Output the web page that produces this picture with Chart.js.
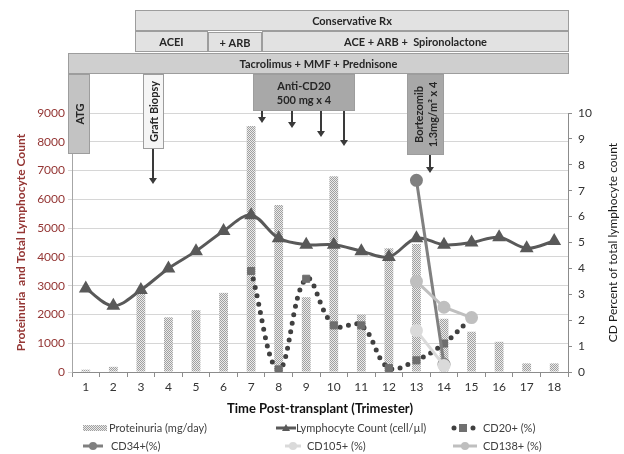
<!DOCTYPE html>
<html>
<head>
<meta charset="utf-8">
<script src="https://cdn.jsdelivr.net/npm/chart.js@4.4.0/dist/chart.umd.min.js"></script>
<style>
  body { margin: 0; background: #fff; }
  #wrap { width: 624px; height: 454px; }
</style>
</head>
<body>
<div id="wrap"><canvas id="chart" width="624" height="454"></canvas></div>
<script>
// values
const trimesters = ['1', '2', '3', '4', '5', '6', '7', '8', '9', '10', '11', '12', '13', '14', '15', '16', '17', '18'];
const proteinuria = [80, 180, 2750, 1900, 2150, 2750, 8550, 5800, 2600, 6800, 2000, 4300, 4450, 1850, 1400, 1050, 300, 300];
const lymphocytes = [2900, 2300, 2850, 3600, 4200, 4900, 5450, 4650, 4420, 4420, 4200, 4000, 4650, 4420, 4500, 4680, 4300, 4550];
const cd20 = [null, null, null, null, null, null, 3.9, 0.1, 3.6, 1.8, 1.8, 0.15, 0.45, 1.1, 2.1, null, null, null];
const cd34 = [null, null, null, null, null, null, null, null, null, null, null, null, 7.4, 0.3, null, null, null, null];
const cd105 = [null, null, null, null, null, null, null, null, null, null, null, null, 1.6, 0.25, null, null, null, null];
const cd138 = [null, null, null, null, null, null, null, null, null, null, null, null, 3.5, 2.5, 2.1, null, null, null];
const leftTicks = [0, 1000, 2000, 3000, 4000, 5000, 6000, 7000, 8000, 9000];
const rightTicks = [0, 1, 2, 3, 4, 5, 6, 7, 8, 9, 10];

const FONT = "Lato, 'Open Sans', sans-serif";
const RED = '#943634';

// treatment boxes drawn above the plot
const treatments = [
  { lines: ['Conservative Rx'], x: 135, y: 10, w: 434, h: 21, fill: '#e2e2e2' },
  { lines: ['ACEI'], x: 135, y: 31, w: 73, h: 21, fill: '#e2e2e2' },
  { lines: ['+ ARB'], x: 208, y: 32, w: 54, h: 20, fill: '#e2e2e2' },
  { lines: ['ACE + ARB +  Spironolactone'], x: 262, y: 31, w: 307, h: 21, fill: '#e2e2e2' },
  { lines: ['Tacrolimus + MMF + Prednisone'], x: 68, y: 53, w: 501, h: 21, fill: '#cfcfcf' },
  { lines: ['ATG'], x: 68, y: 74, w: 22, h: 80, fill: '#c3c3c3', vertical: true },
  { lines: ['Graft Biopsy'], x: 143, y: 74, w: 21, h: 75, fill: '#f5f5f5', vertical: true },
  { lines: ['Anti-CD20', '500 mg x 4'], x: 253, y: 74, w: 102, h: 37, fill: '#a8a8a8' },
  { lines: ['Bortezomib', '1.3mg/m\u00b2 x 4'], x: 407, y: 74, w: 37, h: 81, fill: '#a8a8a8', vertical: true }
];
const arrows = [
  { x: 153, from: 149, to: 184 },
  { x: 262, from: 111, to: 123 },
  { x: 292, from: 111, to: 128 },
  { x: 321, from: 111, to: 137 },
  { x: 344, from: 111, to: 146 },
  { x: 430, from: 155, to: 173 }
];

// checkered fill for the proteinuria bars
function makePattern() {
  const c = document.createElement('canvas');
  c.width = 2;
  c.height = 2;
  const p = c.getContext('2d');
  p.fillStyle = '#ebebeb';
  p.fillRect(0, 0, 2, 2);
  p.fillStyle = '#a0a0a0';
  p.fillRect(0, 0, 1, 1);
  p.fillRect(1, 1, 1, 1);
  return p.createPattern(c, 'repeat');
}
const barPattern = makePattern();

function drawBox(ctx, b) {
  ctx.fillStyle = b.fill;
  ctx.fillRect(b.x, b.y, b.w, b.h);
  ctx.strokeStyle = '#9d9d9d';
  ctx.lineWidth = 1;
  ctx.strokeRect(b.x + 0.5, b.y + 0.5, b.w - 1, b.h - 1);
  ctx.fillStyle = '#262626';
  ctx.font = 'bold 11px ' + FONT;
  ctx.textAlign = 'center';
  ctx.textBaseline = 'middle';
  const lh = 14;
  const cx = b.x + b.w / 2;
  const cy = b.y + b.h / 2;
  ctx.save();
  ctx.translate(cx, cy);
  if (b.vertical) ctx.rotate(-Math.PI / 2);
  b.lines.forEach((t, i) => {
    const off = (i - (b.lines.length - 1) / 2) * lh;
    ctx.fillText(t, 0, off + 1);
  });
  ctx.restore();
}

function drawArrow(ctx, a) {
  ctx.strokeStyle = '#3a3a3a';
  ctx.fillStyle = '#3a3a3a';
  ctx.lineWidth = 2;
  ctx.beginPath();
  ctx.moveTo(a.x, a.from);
  ctx.lineTo(a.x, a.to - 5);
  ctx.stroke();
  ctx.beginPath();
  ctx.moveTo(a.x - 4, a.to - 6);
  ctx.lineTo(a.x + 4, a.to - 6);
  ctx.lineTo(a.x, a.to);
  ctx.closePath();
  ctx.fill();
}

// legend swatches
function lineSwatch(ctx, x1, x2, y, color, style) {
  ctx.strokeStyle = color;
  ctx.fillStyle = color;
  ctx.lineWidth = 3;
  ctx.beginPath();
  ctx.moveTo(x1, y);
  ctx.lineTo(x2, y);
  ctx.stroke();
  const cx = (x1 + x2) / 2;
  ctx.beginPath();
  if (style === 'triangle') {
    ctx.moveTo(cx - 4, y + 3);
    ctx.lineTo(cx + 4, y + 3);
    ctx.lineTo(cx, y - 4);
  } else {
    ctx.arc(cx, y, 4, 0, Math.PI * 2);
  }
  ctx.closePath();
  ctx.fill();
}

function legendText(ctx, text, x, y) {
  ctx.fillStyle = '#404040';
  ctx.font = '11px ' + FONT;
  ctx.textAlign = 'left';
  ctx.textBaseline = 'middle';
  ctx.fillText(text, x, y);
}

const overlay = {
  id: 'overlay',
  afterDraw(chart) {
    const ctx = chart.ctx;
    const area = chart.chartArea;
    ctx.save();
    treatments.forEach(b => drawBox(ctx, b));
    arrows.forEach(a => drawArrow(ctx, a));

    // right axis title, read from bottom to top
    ctx.save();
    ctx.translate(613, (area.top + area.bottom) / 2);
    ctx.rotate(-Math.PI / 2);
    ctx.fillStyle = '#1a1a1a';
    ctx.font = '12px ' + FONT;
    ctx.textAlign = 'center';
    ctx.textBaseline = 'middle';
    ctx.fillText('CD Percent of total lymphocyte count', 0, 0);
    ctx.restore();

    // legend, row 1
    const r1 = 428, r2 = 446;
    ctx.fillStyle = barPattern;
    ctx.fillRect(83, r1 - 3, 24, 6);
    legendText(ctx, 'Proteinuria (mg/day)', 109, r1);
    lineSwatch(ctx, 276, 296, r1, '#595959', 'triangle');
    legendText(ctx, 'Lymphocyte Count (cell/\u00b5l)', 296, r1);
    ctx.fillStyle = '#404040';
    ctx.beginPath();
    ctx.arc(454, r1, 2.5, 0, Math.PI * 2);
    ctx.arc(473, r1, 2.5, 0, Math.PI * 2);
    ctx.fill();
    ctx.fillStyle = '#707070';
    ctx.fillRect(459, r1 - 4, 8, 8);
    legendText(ctx, 'CD20+ (%)', 483, r1);

    // legend, row 2
    lineSwatch(ctx, 83, 103, r2, '#808080', 'circle');
    legendText(ctx, 'CD34+(%)', 111, r2);
    lineSwatch(ctx, 285, 301, r2, '#dadada', 'circle');
    legendText(ctx, 'CD105+ (%)', 307, r2);
    lineSwatch(ctx, 453, 477, r2, '#bfbfbf', 'circle');
    legendText(ctx, 'CD138+ (%)', 483, r2);
    ctx.restore();
  }
};

Chart.defaults.font.family = FONT;

const ctx = document.getElementById('chart');
const myChart = new Chart(ctx, {
  type: 'bar',
  data: {
    labels: trimesters,
    datasets: [
      {
        type: 'line',
        label: 'CD105+ (%)',
        data: cd105,
        yAxisID: 'y1',
        borderColor: '#dadada',
        backgroundColor: '#dadada',
        borderWidth: 3,
        pointRadius: 5,
        order: 1
      },
      {
        type: 'line',
        label: 'CD138+ (%)',
        data: cd138,
        yAxisID: 'y1',
        borderColor: '#bfbfbf',
        backgroundColor: '#bfbfbf',
        borderWidth: 3,
        pointRadius: 5,
        order: 2
      },
      {
        type: 'line',
        label: 'CD34+(%)',
        data: cd34,
        yAxisID: 'y1',
        borderColor: '#808080',
        backgroundColor: '#808080',
        borderWidth: 3,
        pointRadius: 5,
        order: 3
      },
      {
        type: 'line',
        label: 'CD20+ (%)',
        data: cd20,
        yAxisID: 'y1',
        borderColor: '#404040',
        borderWidth: 5,
        borderDash: [0, 8.5],
        borderCapStyle: 'round',
        tension: 0.4,
        pointStyle: 'rect',
        pointRadius: 5,
        pointBackgroundColor: '#6e6e6e',
        pointBorderColor: '#6e6e6e',
        pointBorderWidth: 1,
        order: 4
      },
      {
        type: 'line',
        label: 'Lymphocyte Count (cell/\u00b5l)',
        data: lymphocytes,
        yAxisID: 'y',
        borderColor: '#595959',
        backgroundColor: '#595959',
        borderWidth: 3,
        tension: 0.35,
        pointStyle: 'triangle',
        pointRadius: 5,
        order: 5
      },
      {
        label: 'Proteinuria (mg/day)',
        data: proteinuria,
        yAxisID: 'y',
        backgroundColor: barPattern,
        borderWidth: 0,
        barPercentage: 0.32,
        categoryPercentage: 1,
        order: 10
      }
    ]
  },
  options: {
    responsive: false,
    animation: false,
    layout: { padding: { top: 113, bottom: 36, left: 0, right: 0 } },
    plugins: {
      legend: { display: false },
      tooltip: { enabled: false }
    },
    scales: {
      x: {
        offset: true,
        grid: { offset: true, drawOnChartArea: false, tickLength: 5, color: '#8c8c8c' },
        border: { color: '#8c8c8c' },
        ticks: { color: '#333', font: { size: 12 }, padding: 3, maxRotation: 0 },
        title: {
          display: true,
          text: 'Time Post-transplant (Trimester)',
          color: '#111',
          font: { size: 13, weight: 'bold' },
          padding: { top: 0, bottom: 1 }
        },
        afterFit(scale) { scale.height = 46; }
      },
      y: {
        position: 'left',
        min: 0,
        max: 9000,
        afterBuildTicks(scale) { scale.ticks = leftTicks.map(v => ({ value: v })); },
        grid: { color: '#d6d6d6', tickLength: 4 },
        border: { color: '#a6a6a6' },
        ticks: { color: RED, font: { size: 12 }, padding: 3, callback: v => String(v) },
        title: {
          display: true,
          text: 'Proteinuria  and Total Lymphocyte Count',
          color: RED,
          font: { size: 12, weight: 'bold' },
          padding: { top: 14, bottom: 0 }
        },
        afterFit(scale) { scale.width = 72; }
      },
      y1: {
        position: 'right',
        min: 0,
        max: 10,
        afterBuildTicks(scale) { scale.ticks = rightTicks.map(v => ({ value: v })); },
        grid: { drawOnChartArea: false, tickLength: 4, color: '#8c8c8c' },
        border: { color: '#8c8c8c' },
        ticks: { color: '#333', font: { size: 12 }, padding: 6, callback: v => String(v) },
        afterFit(scale) { scale.width = 56; }
      }
    }
  },
  plugins: [overlay]
});
</script>
</body>
</html>
